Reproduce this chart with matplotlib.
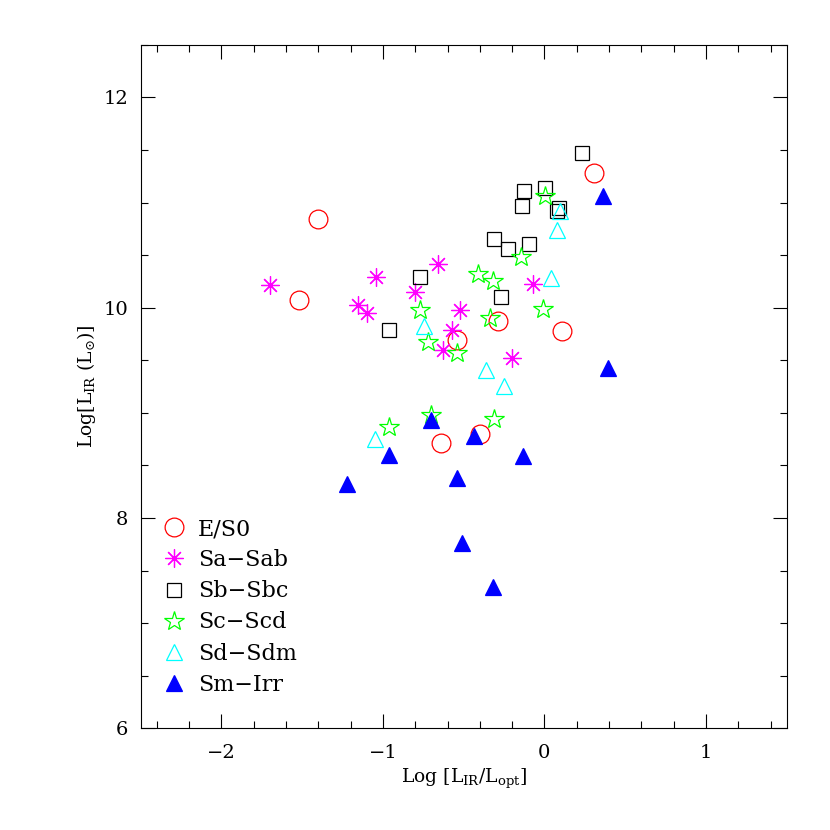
import matplotlib
matplotlib.use("Agg")
import matplotlib.pyplot as plt
from matplotlib.ticker import MultipleLocator

plt.rcParams['font.family'] = ['DejaVu Serif']
plt.rcParams['mathtext.fontset'] = 'dejavuserif'

# Log(L_IR/L_opt), Log(L_IR) per morphological class
es0_x = [-1.40, -1.52, -0.29, 0.11, -0.54, -0.64, -0.40, 0.31]
es0_y = [10.84, 10.07, 9.87, 9.78, 9.69, 8.71, 8.80, 11.28]

sa_x = [-1.70, -1.045, -1.155, -1.10, -0.66, -0.80, -0.07, -0.52, -0.57, -0.63, -0.20]
sa_y = [10.22, 10.29, 10.03, 9.95, 10.42, 10.15, 10.23, 9.98, 9.79, 9.60, 9.52]

sb_x = [-0.31, -0.225, -0.095, -0.77, -0.27, -0.96, 0.23, -0.126, 0.006, -0.139, 0.09, 0.078]
sb_y = [10.65, 10.56, 10.61, 10.29, 10.10, 9.79, 11.47, 11.11, 11.14, 10.97, 10.95, 10.92]

sc_x = [-0.145, -0.41, -0.32, -0.77, -0.34, -0.72, -0.54, -0.70, -0.31, -0.96, 0.006, -0.008]
sc_y = [10.48, 10.32, 10.25, 9.98, 9.90, 9.67, 9.57, 8.98, 8.94, 8.87, 11.06, 9.99]

sd_x = [0.043, -0.745, -0.36, -0.25, 0.097, 0.076, -1.05]
sd_y = [10.28, 9.83, 9.41, 9.26, 10.92, 10.74, 8.75]

sm_x = [0.36, -0.70, -0.435, -0.96, -0.13, -1.22, -0.54, -0.51, -0.32, 0.395]
sm_y = [11.06, 8.93, 8.78, 8.60, 8.59, 8.32, 8.38, 7.76, 7.34, 9.43]

fig = plt.figure(figsize=(8.3, 8.3), dpi=100)
ax = fig.add_axes([0.1695, 0.1225, 0.7783, 0.8235])

lw = 0.9
ax.plot(es0_x, es0_y, 'o', ms=13.5, mfc='none', mec='#ff0000', mew=lw, label='E/S0')
ax.plot(sa_x, sa_y, marker=(8, 2, 0), ls='none', ms=13, mec='#ff00ff', mew=lw, label='Sa\u2212Sab')
ax.plot(sb_x, sb_y, 's', ms=9.5, mfc='none', mec='black', mew=lw, label='Sb\u2212Sbc')
ax.plot(sc_x, sc_y, '*', ms=14.5, mfc='none', mec='#00ff00', mew=lw, label='Sc\u2212Scd')
ax.plot(sd_x, sd_y, '^', ms=12, mfc='none', mec='#00ffff', mew=lw, label='Sd\u2212Sdm')
ax.plot(sm_x, sm_y, '^', ms=12, mfc='#0000ff', mec='#0000ff', mew=lw, label='Sm\u2212Irr')

ax.set_xlim(-2.5, 1.5)
ax.set_ylim(6, 12.5)
ax.xaxis.set_major_locator(MultipleLocator(1))
ax.xaxis.set_minor_locator(MultipleLocator(0.2))
ax.yaxis.set_major_locator(MultipleLocator(2))
ax.yaxis.set_minor_locator(MultipleLocator(0.5))
ax.tick_params(which='both', direction='in', top=True, right=True, width=0.8, labelsize=14)
ax.tick_params(which='major', length=10)
ax.tick_params(which='minor', length=5)
ax.tick_params(axis='x', which='major', pad=11)
ax.tick_params(axis='y', which='major', pad=9)
for s in ax.spines.values():
    s.set_linewidth(0.8)

ax.set_xlabel(r'Log $[\mathrm{L_{IR}/L_{opt}}]$', fontsize=13.5)
ax.set_ylabel(r'Log$[\mathrm{L_{IR}}$ $(\mathrm{L_{\odot}})]$', fontsize=13.5)

ax.legend(loc='lower left', bbox_to_anchor=(0.01, 0.025), frameon=False, fontsize=16,
          handlelength=1.0, handletextpad=0.6, labelspacing=0.41, borderaxespad=0.3)

fig.savefig('out.png', dpi=100)
